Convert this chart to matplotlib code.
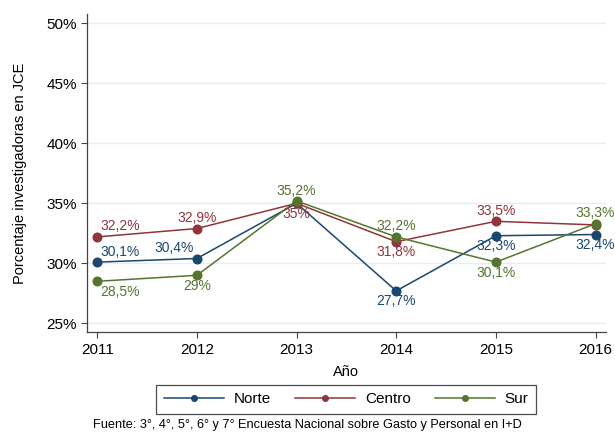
import matplotlib
matplotlib.use("Agg")
import matplotlib.pyplot as plt
from matplotlib.ticker import FuncFormatter

plt.rcParams["font.family"] = ["Liberation Sans", "DejaVu Sans"]

# --------------------------------------------------------------------------- #
# Datos
# --------------------------------------------------------------------------- #
years = [2011, 2012, 2013, 2014, 2015, 2016]
norte = [30.1, 30.4, 35.0, 27.7, 32.3, 32.4]
centro = [32.2, 32.9, 35.0, 31.8, 33.5, 33.2]
sur = [28.5, 29.0, 35.2, 32.2, 30.1, 33.3]
series_names = ["Norte", "Centro", "Sur"]
y_ticks = [25, 30, 35, 40, 45, 50]

# posicion de la etiqueta: "up", "down", "upleft", "upright", "downright", None = sin etiqueta
norte_pos = ["upright", "upleft", None, "down", "down", "down"]
centro_pos = ["upright", "up", "down", "down", "up", None]
sur_pos = ["downright", "down", "up", "up", "down", "up"]

colors = ["#1a476f", "#90353b", "#55752f"]
OFFSETS = {
    "up": ((0, 7.5), "center"),
    "down": ((0, -7.5), "center"),
    "upleft": ((-2, 7.5), "right"),
    "upright": ((2, 7.5), "left"),
    "downright": ((2, -7.5), "left"),
}


def fmt_pct(v):
    s = f"{v:.1f}".rstrip("0").rstrip(".")
    return s.replace(".", ",") + "%"


fig = plt.figure(figsize=(6.15, 4.33), dpi=100)
ax = fig.add_axes([0.141, 0.2326, 0.844, 0.735])

for vals, pos, name, c in zip([norte, centro, sur], [norte_pos, centro_pos, sur_pos], series_names, colors):
    ax.plot(years, vals, color=c, lw=1.1, marker="o", ms=6.2, label=name, zorder=3)
    for x, v, p in zip(years, vals, pos):
        if p is None:
            continue
        off, ha = OFFSETS[p]
        ax.annotate(fmt_pct(v), (x, v), xytext=off, textcoords="offset points",
                    ha=ha, va="center", fontsize=10, color=c, zorder=4)

ax.set_xlim(2010.894, 2016.103)
ax.set_ylim(24.25, 50.78)
ax.set_xticks(years)
ax.set_yticks(y_ticks)
ax.yaxis.set_major_formatter(FuncFormatter(lambda v, _: f"{v:.0f}%"))
ax.grid(axis="y", color="#e6eef0", lw=1.0, zorder=0)
ax.set_axisbelow(True)
for side in ["top", "right"]:
    ax.spines[side].set_visible(False)
for side in ["left", "bottom"]:
    ax.spines[side].set_color("#444444")
    ax.spines[side].set_linewidth(0.9)
ax.tick_params(axis="both", labelsize=11, length=4, width=0.8, color="#444444", pad=3)
ax.tick_params(axis="x", pad=3.5)

ax.set_xlabel("Año", fontsize=10.5, labelpad=6)
ax.set_ylabel("Porcentaje investigadoras en JCE", fontsize=10.5, labelpad=14)

leg = ax.legend(loc="center", bbox_to_anchor=(0.5, -0.2105), ncol=3, fontsize=11,
                frameon=True, fancybox=False, edgecolor="#222222", markerscale=0.65,
                handlelength=3.9, handletextpad=0.65, columnspacing=1.6,
                borderpad=0.5)
leg.get_frame().set_linewidth(0.9)

fig.text(0.5, 0.004, "Fuente: 3°, 4°, 5°, 6° y 7° Encuesta Nacional sobre Gasto y Personal en I+D",
         ha="center", va="bottom", fontsize=9.2)

fig.savefig("out.png", dpi=100)
